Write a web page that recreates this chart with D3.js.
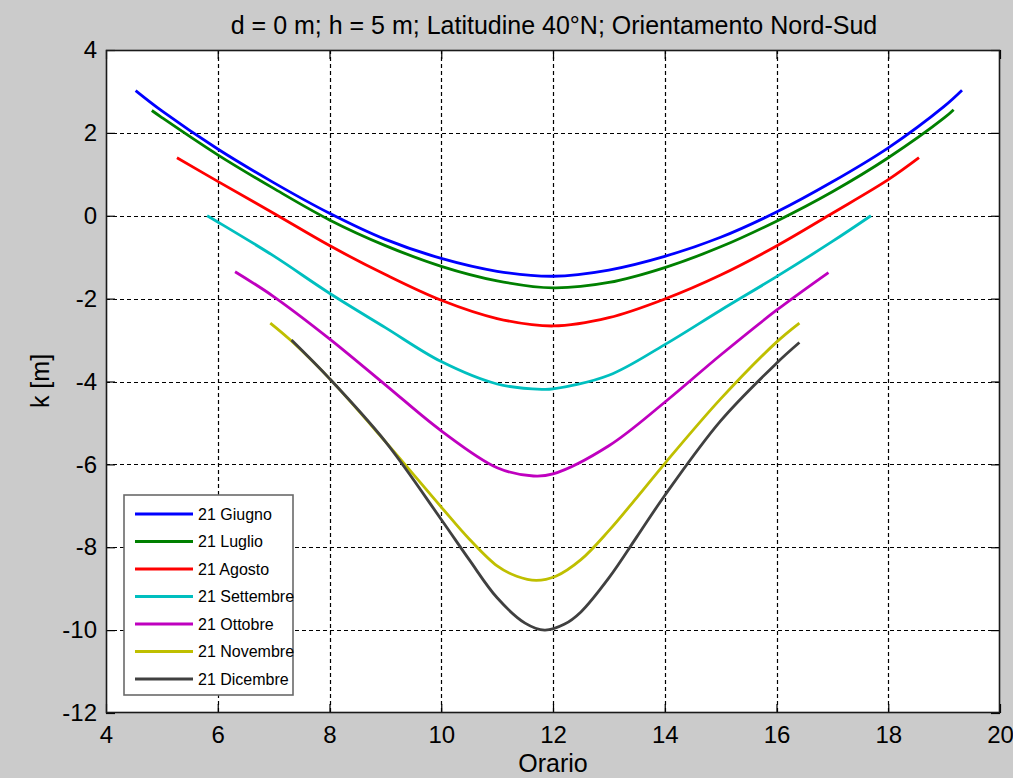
<!DOCTYPE html>
<html>
<head>
<meta charset="utf-8">
<script src="https://cdn.jsdelivr.net/npm/d3@7"></script>
<style>
  html, body { margin: 0; padding: 0; background: #cccccc; }
  svg { display: block; }
  text { font-family: "Liberation Sans", Arial, Helvetica, sans-serif; fill: #000; }
</style>
</head>
<body>
<svg id="chart" width="1013" height="778"></svg>
<script>
// ---- data ----
const titleText = "d = 0 m; h = 5 m; Latitudine 40°N; Orientamento Nord-Sud";
const xLabelText = "Orario";
const yLabelText = "k [m]";
const xTicks = [4, 6, 8, 10, 12, 14, 16, 18, 20];
const yTicks = [-12, -10, -8, -6, -4, -2, 0, 2, 4];

const seriesNames = ["21 Giugno", "21 Luglio", "21 Agosto", "21 Settembre", "21 Ottobre", "21 Novembre", "21 Dicembre"];
const seriesColors = ["#0000ff", "#008000", "#ff0000", "#00bfbf", "#bf00bf", "#bfbf00", "#404040"];

const giugnoOre = [4.53, 5, 6, 7, 8, 9, 10, 11, 12, 13, 14, 15, 16, 17, 18, 19, 19.32];
const giugnoK   = [3.02, 2.53, 1.61, 0.80, 0.06, -0.57, -1.03, -1.34, -1.46, -1.31, -0.98, -0.52, 0.09, 0.82, 1.64, 2.64, 3.03];

const luglioOre = [4.82, 5, 6, 7, 8, 9, 10, 11, 12, 13, 14, 15, 16, 17, 18, 19, 19.17];
const luglioK   = [2.54, 2.37, 1.47, 0.66, -0.10, -0.72, -1.22, -1.57, -1.74, -1.61, -1.25, -0.75, -0.13, 0.58, 1.40, 2.36, 2.56];

const agostoOre = [5.27, 6, 7, 8, 9, 10, 11, 12, 13, 14, 15, 16, 17, 18, 18.55];
const agostoK   = [1.40, 0.83, 0.06, -0.72, -1.42, -2.04, -2.48, -2.66, -2.46, -2.01, -1.43, -0.73, 0.06, 0.87, 1.40];

const settembreOre = [5.81, 6, 7, 8, 9, 10, 11, 11.8, 12, 13, 14, 15, 16, 17, 17.69];
const settembreK   = [0.0, -0.15, -0.97, -1.87, -2.70, -3.52, -4.06, -4.19, -4.18, -3.85, -3.11, -2.28, -1.47, -0.62, 0.0];

const ottobreOre = [6.31, 7, 8, 9, 10, 11, 11.65, 12, 13, 14, 15, 16, 16.93];
const ottobreK   = [-1.35, -1.95, -2.97, -4.08, -5.19, -6.08, -6.28, -6.23, -5.55, -4.50, -3.36, -2.28, -1.37];

const novembreOre = [6.94, 7.3, 8, 9, 10, 10.5, 11, 11.35, 11.7, 12.05, 12.5, 13, 13.5, 14, 15, 16, 16.41];
const novembreK   = [-2.59, -3.0, -3.93, -5.45, -7.03, -7.80, -8.45, -8.70, -8.80, -8.70, -8.30, -7.60, -6.80, -5.98, -4.42, -3.05, -2.59];

const dicembreOre = [7.32, 8, 9, 10, 10.5, 11, 11.5, 11.85, 12.2, 12.5, 13, 13.5, 14, 15, 16, 16.41];
const dicembreK   = [-3.0, -3.93, -5.45, -7.33, -8.30, -9.22, -9.83, -10.0, -9.86, -9.56, -8.74, -7.75, -6.75, -4.95, -3.56, -3.06];

const seriesOre = [giugnoOre, luglioOre, agostoOre, settembreOre, ottobreOre, novembreOre, dicembreOre];
const seriesK = [giugnoK, luglioK, agostoK, settembreK, ottobreK, novembreK, dicembreK];

// ---- layout ----
const W = 1013, H = 778;
const plot = { left: 106, top: 50, right: 1000, bottom: 713 };
const svg = d3.select("#chart");

svg.append("rect").attr("x", 0).attr("y", 0).attr("width", W).attr("height", H).attr("fill", "#cbcbcb");

const x = d3.scaleLinear().domain([4, 20]).range([plot.left, plot.right]);
const y = d3.scaleLinear().domain([-12, 4]).range([plot.bottom, plot.top]);

// axes background
svg.append("rect")
  .attr("x", plot.left).attr("y", plot.top)
  .attr("width", plot.right - plot.left).attr("height", plot.bottom - plot.top)
  .attr("fill", "#ffffff");

// grid
const grid = svg.append("g").attr("stroke", "#000").attr("stroke-width", 1.2).attr("stroke-dasharray", "4,3");
grid.selectAll("line.gx").data(xTicks.slice(1, -1)).enter().append("line")
  .attr("x1", d => Math.round(x(d)) + 0.5).attr("x2", d => Math.round(x(d)) + 0.5)
  .attr("y1", plot.top).attr("y2", plot.bottom);
grid.selectAll("line.gy").data(yTicks.slice(1, -1)).enter().append("line")
  .attr("y1", d => Math.round(y(d)) + 0.5).attr("y2", d => Math.round(y(d)) + 0.5)
  .attr("x1", plot.left).attr("x2", plot.right);

// axes with inward ticks
const tickFont = 24;
const fmt = d => String(d);
const axB = svg.append("g").attr("transform", `translate(0,${plot.bottom})`)
  .call(d3.axisBottom(x).tickValues(xTicks).tickSizeInner(-9).tickSizeOuter(0).tickPadding(13).tickFormat(fmt));
const axL = svg.append("g").attr("transform", `translate(${plot.left},0)`)
  .call(d3.axisLeft(y).tickValues(yTicks).tickSizeInner(-9).tickSizeOuter(0).tickPadding(9).tickFormat(fmt));
const axT = svg.append("g").attr("transform", `translate(0,${plot.top})`)
  .call(d3.axisTop(x).tickValues(xTicks).tickSizeInner(-9).tickSizeOuter(0).tickFormat(""));
const axR = svg.append("g").attr("transform", `translate(${plot.right},0)`)
  .call(d3.axisRight(y).tickValues(yTicks).tickSizeInner(-9).tickSizeOuter(0).tickFormat(""));
[axB, axL, axT, axR].forEach(a => {
  a.select(".domain").remove();
  a.selectAll(".tick line").attr("stroke", "#000").attr("stroke-width", 1.2);
  a.selectAll(".tick text").attr("font-size", tickFont).attr("font-family", "Liberation Sans, Arial, sans-serif").attr("fill", "#111");
});
axB.selectAll(".tick text").attr("dy", "0.72em");

// series lines
svg.append("clipPath").attr("id", "clipPlot").append("rect")
  .attr("x", plot.left).attr("y", plot.top).attr("width", plot.right - plot.left).attr("height", plot.bottom - plot.top);
const line = d3.line().x(d => x(d[0])).y(d => y(d[1])).curve(d3.curveCatmullRom.alpha(0.5));
const linesG = svg.append("g").attr("clip-path", "url(#clipPlot)");
seriesNames.forEach((name, i) => {
  const pts = seriesOre[i].map((h, j) => [h, seriesK[i][j]]);
  linesG.append("path").datum(pts)
    .attr("d", line)
    .attr("fill", "none")
    .attr("stroke", seriesColors[i])
    .attr("stroke-width", 2.8)
    .attr("stroke-linejoin", "round")
    .attr("stroke-linecap", "butt");
});

// axes box
svg.append("rect")
  .attr("x", plot.left + 0.5).attr("y", plot.top + 0.5)
  .attr("width", plot.right - plot.left - 1).attr("height", plot.bottom - plot.top - 1)
  .attr("fill", "none").attr("stroke", "#1a1a1a").attr("stroke-width", 1.6);

// legend
const leg = { x: 124, y: 495, w: 169, h: 200, rowStart: 514, rowStep: 27.5 };
svg.append("rect").attr("x", leg.x).attr("y", leg.y).attr("width", leg.w).attr("height", leg.h)
  .attr("fill", "#ffffff").attr("stroke", "#6a6a6a").attr("stroke-width", 1.6);
const legRows = svg.append("g").selectAll("g").data(seriesNames).enter().append("g")
  .attr("transform", (d, i) => `translate(0,${leg.rowStart + i * leg.rowStep})`);
legRows.append("line").attr("x1", 135).attr("x2", 193).attr("y1", 0).attr("y2", 0)
  .attr("stroke", (d, i) => seriesColors[i]).attr("stroke-width", 2.8);
legRows.append("text").attr("x", 198).attr("y", 0).attr("dy", "0.36em")
  .attr("font-size", 16).attr("fill", "#222").text(d => d);

// title and axis labels
svg.append("text").attr("x", 554).attr("y", 34).attr("text-anchor", "middle")
  .attr("font-size", 25).attr("fill", "#111").text(titleText);
svg.append("text").attr("x", 553).attr("y", 772).attr("text-anchor", "middle")
  .attr("font-size", 25).attr("fill", "#111").text(xLabelText);
svg.append("text").attr("transform", "translate(49,381) rotate(-90)").attr("text-anchor", "middle")
  .attr("font-size", 25).attr("fill", "#111").text(yLabelText);
</script>
</body>
</html>
